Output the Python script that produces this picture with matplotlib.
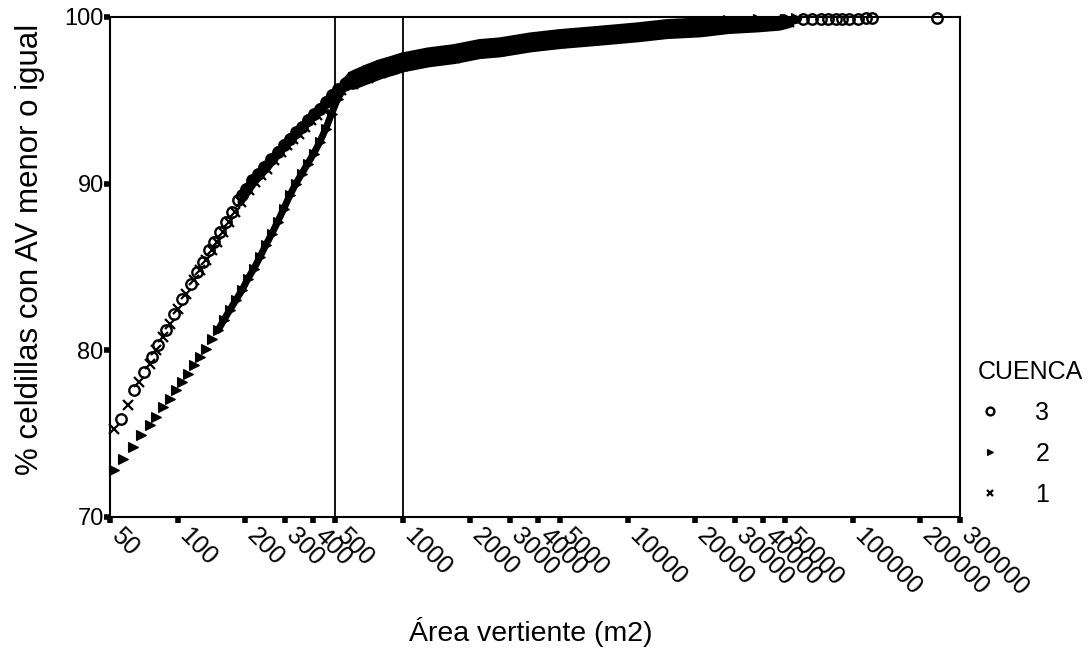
import matplotlib
matplotlib.use("Agg")
import matplotlib.pyplot as plt
import matplotlib.transforms as mtransforms
from matplotlib.ticker import FixedLocator, FixedFormatter, NullLocator
import numpy as np

plt.rcParams["font.family"] = ["Liberation Sans", "DejaVu Sans"]

# ── data (area m2, cumulative %) ─────────────────────────────────────────────
# CUENCA 3 (open circles)
c3_area = [56, 64, 71, 77, 82, 89, 96, 104, 114, 122, 129, 138, 145, 154, 164,
           174, 185, 193, 201, 213, 227, 241, 259, 278, 296, 315, 335, 356, 378,
           402, 428, 455, 483, 514, 558, 618, 698, 797, 902, 1009, 1330, 1717,
           2217, 2718, 3696, 5021, 7550, 11370, 15460, 21000, 28500, 38770,
           49000, 60000, 66000, 72000, 78000, 84000, 90000, 96000, 106000,
           114000, 122000, 237000]
c3_pct = [75.9, 77.6, 78.7, 79.6, 80.3, 81.2, 82.2, 83.1, 84.0, 84.7, 85.3, 86.0,
          86.5, 87.1, 87.7, 88.3, 89.0, 89.3, 89.7, 90.2, 90.6, 91.0, 91.5, 91.9,
          92.3, 92.7, 93.1, 93.4, 93.8, 94.2, 94.5, 94.9, 95.3, 95.7, 96.0, 96.3,
          96.6, 96.9, 97.1, 97.3, 97.6, 97.8, 98.1, 98.2, 98.5, 98.7, 98.9, 99.1,
          99.3, 99.4, 99.6, 99.7, 99.8, 99.85, 99.85, 99.85, 99.88, 99.9, 99.9,
          99.9, 99.9, 99.92, 99.95, 99.95]

# CUENCA 2 (triangles)
c2_area = [52, 57, 63, 69, 75, 80, 86, 92, 98, 104, 111, 118, 125, 133, 142, 151,
           160, 170, 181, 193, 205, 218, 232, 246, 262, 278, 296, 315, 335, 356,
           378, 402, 428, 455, 483, 514, 558, 600, 700, 800, 900, 1000, 1300,
           1700, 2200, 2700, 3700, 5000, 7500, 11000, 15000, 21000, 28000, 38000,
           50000, 56000]
c2_pct = [72.8, 73.5, 74.2, 74.9, 75.5, 76.0, 76.6, 77.1, 77.6, 78.1, 78.6, 79.1,
          79.6, 80.1, 80.7, 81.2, 81.8, 82.4, 83.0, 83.6, 84.3, 84.9, 85.6, 86.3,
          87.0, 87.7, 88.5, 89.3, 90.0, 90.6, 91.2, 91.8, 92.5, 93.3, 94.2, 95.1,
          95.9, 96.4, 96.8, 97.1, 97.3, 97.5, 97.8, 98.0, 98.3, 98.4, 98.7, 98.9,
          99.1, 99.3, 99.5, 99.6, 99.8, 99.85, 99.9, 99.95]

# CUENCA 1 (crosses)
c1_area = [52, 60, 67, 75, 80, 86, 92, 100, 109, 118, 125, 133, 142, 149, 159,
           169, 179, 191, 207, 220, 234, 249, 267, 287, 305, 325, 345, 367, 390,
           415, 441, 469, 498, 530, 600, 700, 800, 900, 1000, 1300, 1700, 2200,
           2700, 3700, 5000, 7500, 11000, 15000, 21000, 28000, 38000, 47000,
           52000]
c1_pct = [75.3, 76.7, 78.1, 79.2, 80.0, 80.8, 81.6, 82.5, 83.4, 84.2, 84.8, 85.4,
          86.0, 86.5, 87.1, 87.7, 88.3, 88.9, 89.6, 90.1, 90.5, 90.9, 91.4, 91.9,
          92.3, 92.7, 93.0, 93.4, 93.8, 94.1, 94.5, 94.9, 95.3, 95.6, 96.0, 96.35,
          96.65, 96.85, 97.05, 97.35, 97.55, 97.85, 97.95, 98.25, 98.45, 98.65,
          98.85, 99.05, 99.15, 99.35, 99.45, 99.55, 99.7]

x_ticks = [50, 100, 200, 300, 400, 500, 1000, 2000, 3000, 4000, 5000, 10000,
           20000, 30000, 40000, 50000, 100000, 200000, 300000]
y_ticks = [70, 80, 90, 100]
ref_lines = [500, 1000]

# markers overlap into a band: thinner core below THICK_FROM, wide beyond
THICK_FROM = 540
BAND_END = 56000

fig = plt.figure(figsize=(10.91, 6.53), dpi=100)
ax = fig.add_axes([0.1008, 0.2083, 0.7792, 0.7657])

for xv in ref_lines:
    ax.axvline(xv, color="black", lw=1.3, zorder=1)

series = [
    ("3", c3_area, c3_pct, 190, dict(marker="o", ms=7.5, mfc="none", mec="black", mew=1.7)),
    ("2", c2_area, c2_pct, 150, dict(marker=">", ms=6.5, mfc="black", mec="black", mew=0.8)),
    ("1", c1_area, c1_pct, 190, dict(marker="x", ms=6.5, mec="black", mew=1.6)),
]
for name, xs, ys, band_from, style in series:
    xs, ys = np.array(xs), np.array(ys)
    thin = (xs >= band_from) & (xs <= THICK_FROM + 30)
    thick = (xs >= THICK_FROM) & (xs <= BAND_END)
    ax.plot(xs[thin], ys[thin], color="black", lw=5, solid_capstyle="round", zorder=2)
    ax.plot(xs[thick], ys[thick], color="black", lw=9, solid_capstyle="round", zorder=2)
    ax.plot(xs, ys, linestyle="none", label=name, zorder=3, clip_on=False, **style)

ax.set_xscale("log")
ax.set_xlim(50, 300000)
ax.set_ylim(70, 100)
ax.xaxis.set_major_locator(FixedLocator(x_ticks))
ax.xaxis.set_major_formatter(FixedFormatter([str(v) for v in x_ticks]))
ax.xaxis.set_minor_locator(NullLocator())
ax.set_yticks(y_ticks)
ax.tick_params(axis="both", direction="out", length=4, width=4, color="black")
ax.tick_params(axis="y", labelsize=17, pad=0.5)
ax.tick_params(axis="x", labelsize=18, pad=7)
shift = mtransforms.ScaledTranslation(0.05, 0.0, fig.dpi_scale_trans)
for lab in ax.get_xticklabels():
    lab.set_rotation(-45)
    lab.set_ha("left")
    lab.set_va("center")
    lab.set_rotation_mode("anchor")
    lab.set_transform(lab.get_transform() + shift)

for sp in ax.spines.values():
    sp.set_linewidth(1.5)

ax.set_ylabel("% celdillas con AV menor o igual", fontsize=22.5)
ax.yaxis.set_label_coords(-0.077, 0.535)
fig.text(0.4867, 0.032, "Área vertiente (m2)", fontsize=20.5, ha="center", va="center")

leg = ax.legend(title="CUENCA", loc="upper left", bbox_to_anchor=(1.021, 0.313),
                frameon=False, fontsize=18, title_fontsize=18, handlelength=1.0,
                handletextpad=1.3, labelspacing=0.67, markerscale=0.75,
                borderpad=0, borderaxespad=0)
leg._legend_box.align = "left"

fig.savefig("out.png", dpi=100)
